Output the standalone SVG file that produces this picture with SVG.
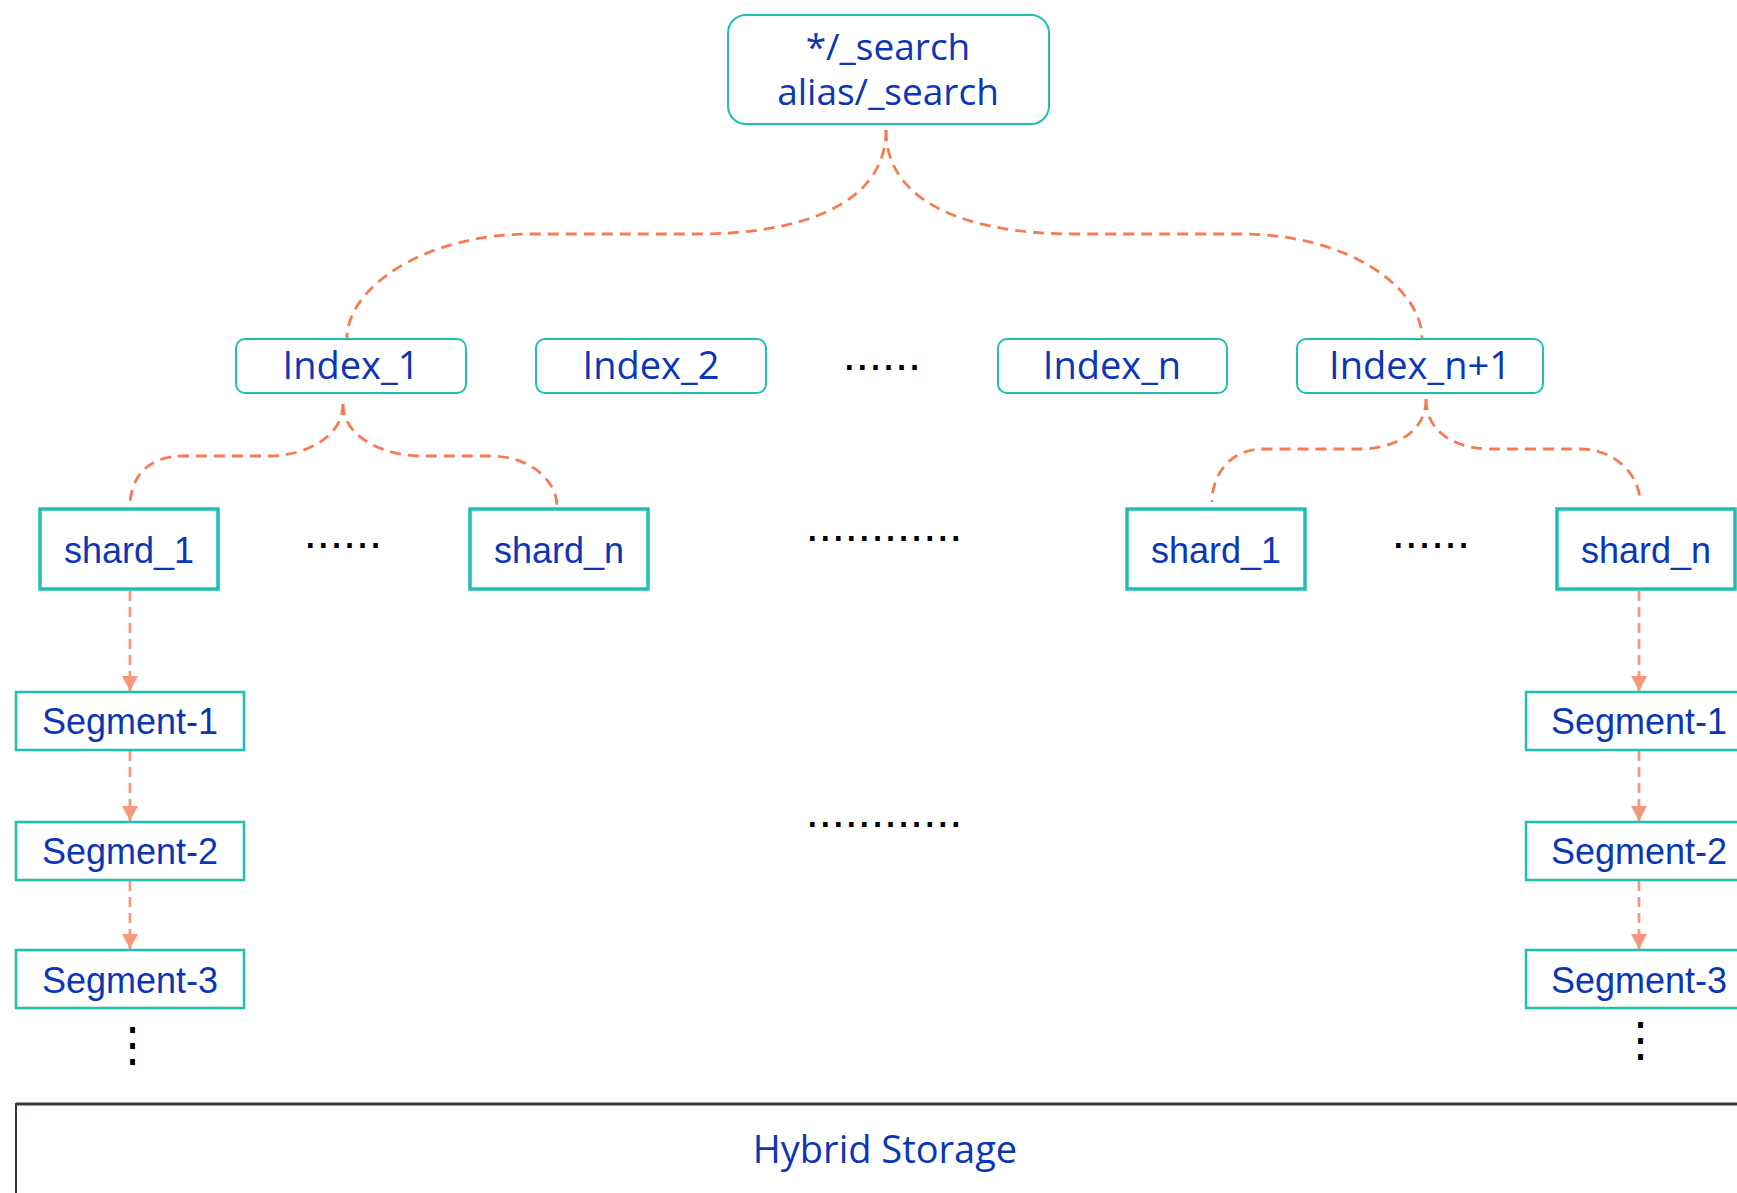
<svg xmlns="http://www.w3.org/2000/svg" width="1737" height="1193" viewBox="0 0 1737 1193">
<style>
.t{font-family:"Open Sans","Noto Sans",sans-serif;fill:#0B36B5;text-anchor:middle}
.a{font-family:"Liberation Sans",Arial,sans-serif;fill:#0B36B5;text-anchor:middle;font-size:36px}
.idx{fill:#fff;stroke:#1FBFB2;stroke-width:2}
.shd{fill:#fff;stroke:#1FBFB2;stroke-width:3.5}
.seg{fill:#fff;stroke:#1FBFB2;stroke-width:2.5}
.cv{fill:none;stroke:#F77B52;stroke-width:2.8;stroke-dasharray:11 7}
.ar{fill:none;stroke:#F7977E;stroke-width:2.8;stroke-dasharray:10 6}
.dots{font-family:"Liberation Sans",Arial,sans-serif;font-size:47px;fill:#000}
</style>
<defs>
<marker id="ah" markerWidth="16" markerHeight="16" refX="15" refY="8" orient="auto" markerUnits="userSpaceOnUse">
<path d="M0,0 L15,8 L0,16 Z" fill="#F7977E"/>
</marker>
</defs>
<rect width="1737" height="1193" fill="#fff"/>

<g id="connectors">
<path class="cv" d="M886 130 C886 205 800 234 697 234 L532 234 C420 234 347 290 347 338"/>
<path class="cv" d="M886 130 C886 205 972 234 1075 234 L1240 234 C1352 234 1422 290 1422 338"/>
<path class="cv" d="M343 404 C343 440 300 456 270 456 L183 456 C150 456 130 475 130 507"/>
<path class="cv" d="M343 404 C343 440 390 456 420 456 L490 456 C530 456 557 480 557 507"/>
<path class="cv" d="M1426 399 C1426 435 1390 449 1360 449 L1263 449 C1230 449 1212 475 1212 502"/>
<path class="cv" d="M1426 399 C1426 435 1460 449 1490 449 L1580 449 C1615 449 1640 475 1640 502"/>
<path class="ar" d="M130 591 L130 691" marker-end="url(#ah)"/>
<path class="ar" d="M130 751 L130 821" marker-end="url(#ah)"/>
<path class="ar" d="M130 881 L130 949" marker-end="url(#ah)"/>
<path class="ar" d="M1639 591 L1639 691" marker-end="url(#ah)"/>
<path class="ar" d="M1639 751 L1639 821" marker-end="url(#ah)"/>
<path class="ar" d="M1639 881 L1639 949" marker-end="url(#ah)"/>
</g>

<g id="search">
<rect x="728" y="15" width="321" height="109" rx="18" class="idx"/>
<text class="t" font-size="37"><tspan x="888" y="60">*/_search</tspan><tspan x="888" y="105">alias/_search</tspan></text>
</g>

<g id="index_1"><rect x="236" y="339" width="230" height="54" rx="9" class="idx"/><text x="351" y="379" class="t" font-size="38">Index_1</text></g>
<g id="index_2"><rect x="536" y="339" width="230" height="54" rx="9" class="idx"/><text x="651" y="379" class="t" font-size="38">Index_2</text></g>
<g id="index_dots"><text x="882" y="370" class="dots" text-anchor="middle">......</text></g>
<g id="index_n"><rect x="998" y="339" width="229" height="54" rx="9" class="idx"/><text x="1112" y="379" class="t" font-size="38">Index_n</text></g>
<g id="index_n1"><rect x="1297" y="339" width="246" height="54" rx="9" class="idx"/><text x="1420" y="379" class="t" font-size="38">Index_n+1</text></g>

<g id="shard_1_a"><rect x="40" y="509" width="178" height="80" class="shd"/><text x="129" y="563" class="a">shard_1</text></g>
<g id="shard_dots_a"><text x="343" y="548" class="dots" text-anchor="middle">......</text></g>
<g id="shard_n_a"><rect x="470" y="509" width="178" height="80" class="shd"/><text x="559" y="563" class="a">shard_n</text></g>
<g id="mid_dots_1"><text x="884" y="541" class="dots" text-anchor="middle">............</text></g>
<g id="shard_1_b"><rect x="1127" y="509" width="178" height="80" class="shd"/><text x="1216" y="563" class="a">shard_1</text></g>
<g id="shard_dots_b"><text x="1431" y="548" class="dots" text-anchor="middle">......</text></g>
<g id="shard_n_b"><rect x="1557" y="509" width="178" height="80" class="shd"/><text x="1646" y="563" class="a">shard_n</text></g>

<g id="seg1_a"><rect x="16" y="692" width="228" height="58" class="seg"/><text x="130" y="734" class="a">Segment-1</text></g>
<g id="seg2_a"><rect x="16" y="822" width="228" height="58" class="seg"/><text x="130" y="864" class="a">Segment-2</text></g>
<g id="seg3_a"><rect x="16" y="950" width="228" height="58" class="seg"/><text x="130" y="993" class="a">Segment-3</text></g>
<g id="vdots_a"><text x="132" y="1060" class="dots" font-family="DejaVu Sans" font-size="36" text-anchor="middle">⋮</text></g>
<g id="mid_dots_2"><text x="884" y="827" class="dots" text-anchor="middle">............</text></g>
<g id="seg1_b"><rect x="1526" y="692" width="228" height="58" class="seg"/><text x="1639" y="734" class="a">Segment-1</text></g>
<g id="seg2_b"><rect x="1526" y="822" width="228" height="58" class="seg"/><text x="1639" y="864" class="a">Segment-2</text></g>
<g id="seg3_b"><rect x="1526" y="950" width="228" height="58" class="seg"/><text x="1639" y="993" class="a">Segment-3</text></g>
<g id="vdots_b"><text x="1640" y="1055" class="dots" font-family="DejaVu Sans" font-size="36" text-anchor="middle">⋮</text></g>

<g id="hybrid_storage">
<path d="M16 1200 L16 1104 L1745 1104" fill="none" stroke="#3A3A44" stroke-width="2"/>
<path d="M16 1104 L1745 1104" fill="none" stroke="#3A3A44" stroke-width="3"/>
<text x="885" y="1163" class="t" font-size="38">Hybrid Storage</text>
</g>
</svg>
